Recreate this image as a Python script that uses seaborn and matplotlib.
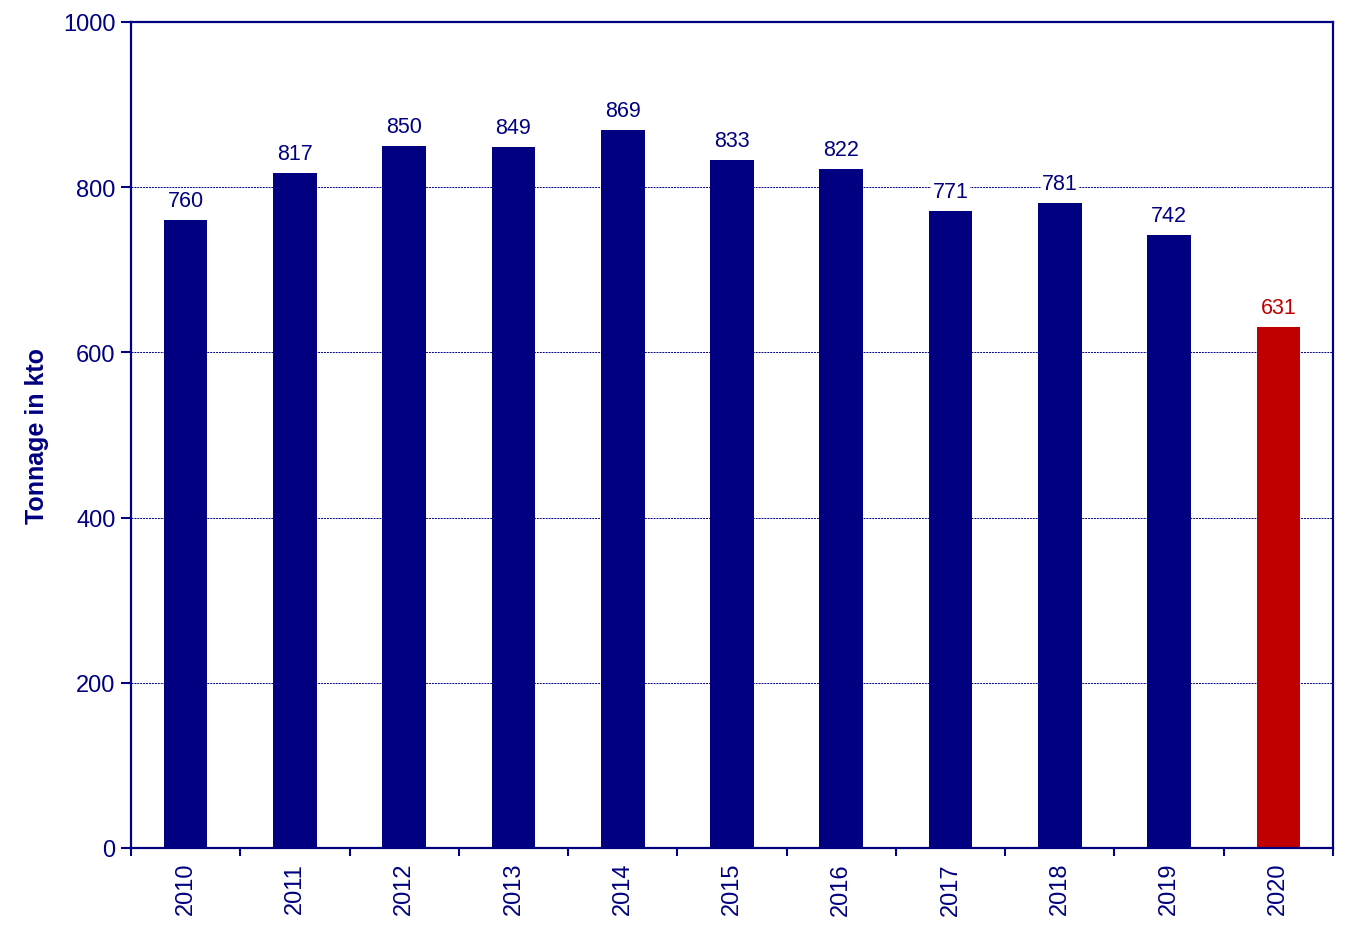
import numpy as np
import pandas as pd
import seaborn as sns
import matplotlib.pyplot as plt

years = ["2010", "2011", "2012", "2013", "2014", "2015", "2016", "2017", "2018", "2019", "2020"]
tonnage = [760, 817, 850, 849, 869, 833, 822, 771, 781, 742, 631]
bar_colors = ["#000080"] * 10 + ["#C00000"]

NAVY = "#000080"


def main():
    sns.set_theme(style="white")
    plt.rcParams["font.family"] = ["Liberation Sans", "DejaVu Sans"]

    df = pd.DataFrame({"year": years, "tonnage": tonnage})

    fig = plt.figure(figsize=(13.55, 9.28), dpi=100)
    ax = fig.add_axes([131 / 1355, 1 - 849 / 928, 1202 / 1355, 826 / 928])

    sns.barplot(data=df, x="year", y="tonnage", hue="year", palette=bar_colors,
                legend=False, width=0.4, saturation=1, linewidth=0, ax=ax, zorder=2)

    ax.set_ylim(0, 1000)
    ax.set_xlim(-0.5, len(years) - 0.5)
    ax.set_yticks(np.arange(0, 1001, 200))
    ax.yaxis.grid(True, color=NAVY, linestyle=(0, (2, 1)), linewidth=0.7, zorder=0)
    ax.set_axisbelow(True)

    for i, (v, c) in enumerate(zip(tonnage, bar_colors)):
        ax.text(i, v + 11, str(v), ha="center", va="bottom", fontsize=15.5, color=c,
                bbox=dict(facecolor="white", edgecolor="none", pad=1), zorder=3)

    for s in ax.spines.values():
        s.set_color(NAVY)
        s.set_linewidth(1.6)

    ax.tick_params(axis="y", colors=NAVY, labelsize=17, length=7, width=1.5, direction="out", left=True, pad=4)
    ax.set_xticks(np.arange(len(years)))
    ax.set_xticklabels(years, rotation=90)
    ax.tick_params(axis="x", which="major", colors=NAVY, labelsize=17, length=0, pad=10)
    ax.set_xticks(np.arange(-0.5, len(years), 1), minor=True)
    ax.tick_params(axis="x", which="minor", color=NAVY, length=6, width=1.5, direction="out", bottom=True)

    ax.set_xlabel("")
    ax.set_ylabel("Tonnage in kto", fontsize=18, fontweight="bold", color=NAVY, labelpad=10)

    plt.savefig("out.png", dpi=100)
    plt.close()


if __name__ == "__main__":
    main()
